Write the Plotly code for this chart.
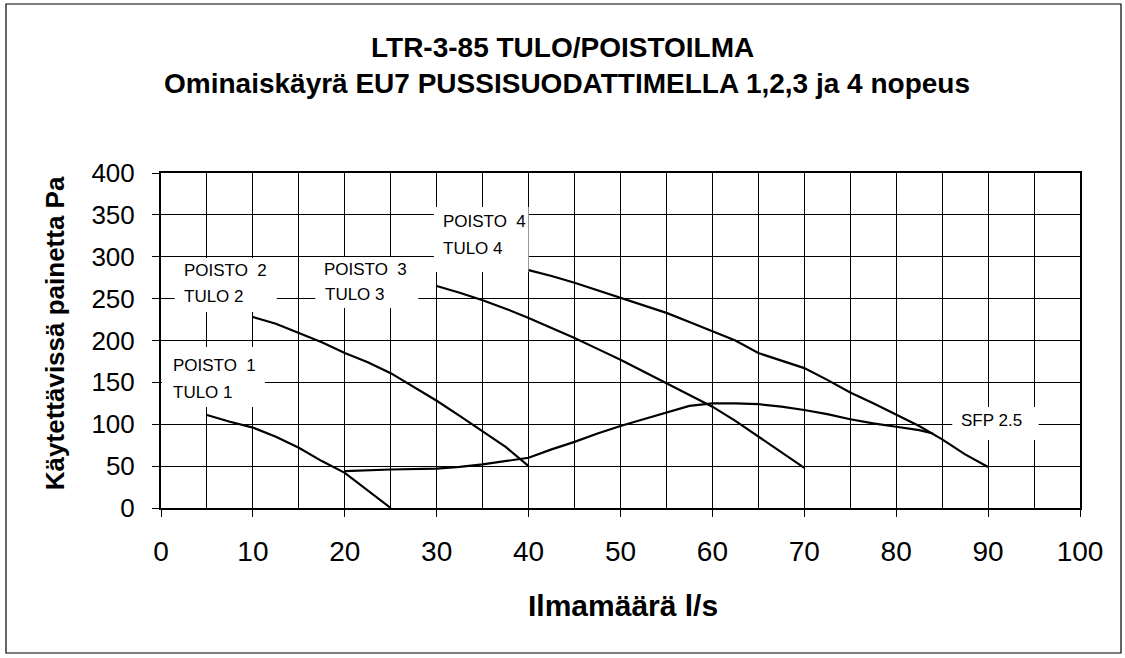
import plotly.graph_objects as go

# ---- data ----
x_speed1 = [5, 7.5, 10, 12.5, 15, 17.5, 20, 22.5, 25]
y_speed1 = [111, 103, 96, 85, 72, 56, 42, 21, 0]

x_speed2 = [10, 12.5, 15, 17.5, 20, 22.5, 25, 27.5, 30, 32.5, 35, 37.5, 40]
y_speed2 = [228, 220, 209, 198, 185, 174, 161, 145, 128, 110, 91, 73, 50]

x_speed3 = [30, 32.5, 35, 37.5, 40, 42.5, 45, 47.5, 50, 52.5, 55, 57.5, 60, 62.5, 65, 67.5, 70]
y_speed3 = [265, 257, 248, 238, 227, 215, 203, 190, 177, 163, 149, 135, 121, 104, 85, 67, 48]

x_speed4 = [40, 42.5, 45, 47.5, 50, 52.5, 55, 57.5, 60, 62.5, 65, 67.5, 70, 72.5, 75, 77.5, 80, 82.5, 85, 87.5, 90]
y_speed4 = [284, 277, 269, 260, 251, 242, 233, 222, 211, 200, 185, 176, 167, 153, 138, 125, 111, 98, 82, 64, 49]

x_sfp = [20, 25, 30, 32.5, 35, 37.5, 40, 42.5, 45, 47.5, 50, 52.5, 55, 57.5, 60, 62.5, 65, 67.5, 70, 72.5, 75, 77.5, 80, 82.5, 84]
y_sfp = [44, 46, 47, 49, 52, 56, 60, 70, 79, 89, 98, 106, 114, 122, 125, 125, 124, 121, 117, 112, 106, 101, 97, 93, 89]

x_ticks = [0, 10, 20, 30, 40, 50, 60, 70, 80, 90, 100]
y_ticks = [0, 50, 100, 150, 200, 250, 300, 350, 400]

title_line1 = "LTR-3-85 TULO/POISTOILMA"
title_line2 = "Ominaiskäyrä EU7 PUSSISUODATTIMELLA 1,2,3 ja 4 nopeus"
x_title = "Ilmamäärä l/s"
y_title = "Käytettävissä painetta Pa"

# curve labels: (text, x, y)
label_texts = ["POISTO\u00a0 1", "TULO 1", "POISTO\u00a0 2", "TULO 2",
               "POISTO\u00a0 3", "TULO 3", "POISTO\u00a0 4", "TULO 4", "SFP 2.5"]
label_x = [1.1, 1.1, 2.3, 2.3, 17.5, 17.6, 30.5, 30.5, 86.8]
label_y = [169.6, 138.5, 283.6, 252.3, 285.1, 254.6, 341.5, 310, 104]

# white label boxes: x0, x1, y0, y1
box_x0 = [0.1, 1.5, 16.8, 29.7, 86.1]
box_x1 = [11.3, 12.6, 28.0, 40.0, 95.5]
box_y0 = [120.6, 234, 238.8, 281.8, 81.2]
box_y1 = [192.2, 298.5, 299.7, 359.4, 120.6]

FONT = "Liberation Sans, Arial, sans-serif"

fig = go.Figure()
for xs, ys in [(x_speed1, y_speed1), (x_speed2, y_speed2), (x_speed3, y_speed3),
               (x_speed4, y_speed4), (x_sfp, y_sfp)]:
    fig.add_trace(go.Scatter(x=xs, y=ys, mode="lines",
                             line=dict(color="black", width=2.2),
                             showlegend=False, hoverinfo="skip"))

for x0, x1, y0, y1 in zip(box_x0, box_x1, box_y0, box_y1):
    fig.add_shape(type="rect", xref="x", yref="y", x0=x0, x1=x1, y0=y0, y1=y1,
                  fillcolor="white", line=dict(width=0), layer="between")

for t, lx, ly in zip(label_texts, label_x, label_y):
    fig.add_annotation(text=t, x=lx, y=ly, xref="x", yref="y", xanchor="left",
                       yanchor="middle", showarrow=False,
                       font=dict(family=FONT, size=17, color="black"))

# titles
fig.add_annotation(text="<b>" + title_line1 + "</b>", x=0.4374, y=1.376, xref="paper", yref="paper",
                   xanchor="center", yanchor="middle", showarrow=False,
                   font=dict(family=FONT, size=28, color="black"))
fig.add_annotation(text="<b>" + title_line2 + "</b>", x=0.4418, y=1.2657, xref="paper", yref="paper",
                   xanchor="center", yanchor="middle", showarrow=False,
                   font=dict(family=FONT, size=28, color="black"))
fig.add_annotation(text="<b>" + x_title + "</b>", x=0.503, y=-0.29, xref="paper", yref="paper",
                   xanchor="center", yanchor="middle", showarrow=False,
                   font=dict(family=FONT, size=30, color="black"))
fig.add_annotation(text="<b>" + y_title + "</b>", x=-0.1153, y=0.522, xref="paper", yref="paper",
                   xanchor="center", yanchor="middle", showarrow=False, textangle=-90,
                   font=dict(family=FONT, size=26, color="black"))

# outer frame
fig.add_shape(type="rect", xref="paper", yref="paper",
              x0=(6 - 161) / 919, x1=(1121 - 161) / 919,
              y0=(508 - 653) / 335, y1=(508 - 4) / 335,
              line=dict(color="black", width=1.2), fillcolor="rgba(0,0,0,0)")

fig.update_layout(
    width=1125, height=658,
    margin=dict(l=161, r=45, t=173, b=150),
    paper_bgcolor="white", plot_bgcolor="white",
    font=dict(family=FONT, color="black"),
    xaxis=dict(range=[0, 100], tickvals=x_ticks, ticktext=[str(v) for v in x_ticks],
               ticks="outside", ticklen=7, tickwidth=1, tickcolor="black",
               tickfont=dict(family=FONT, size=28, color="black"),
               ticklabelstandoff=10,
               showgrid=True, gridcolor="black", gridwidth=1,
               minor=dict(dtick=5, tick0=0, showgrid=True, gridcolor="black", gridwidth=1, ticks=""),
               showline=True, linecolor="black", linewidth=2, mirror=True,
               zeroline=False, fixedrange=True),
    yaxis=dict(range=[0, 400], tickvals=y_ticks, ticktext=[str(v) for v in y_ticks],
               ticks="outside", ticklen=7, tickwidth=1, tickcolor="black",
               tickfont=dict(family=FONT, size=26, color="black"),
               ticklabelstandoff=12,
               showgrid=True, gridcolor="black", gridwidth=1,
               showline=True, linecolor="black", linewidth=2, mirror=True,
               zeroline=False, fixedrange=True),
)

fig.write_html("out.html", config={"displayModeBar": False},
               post_script="document.body.style.margin='0';")
